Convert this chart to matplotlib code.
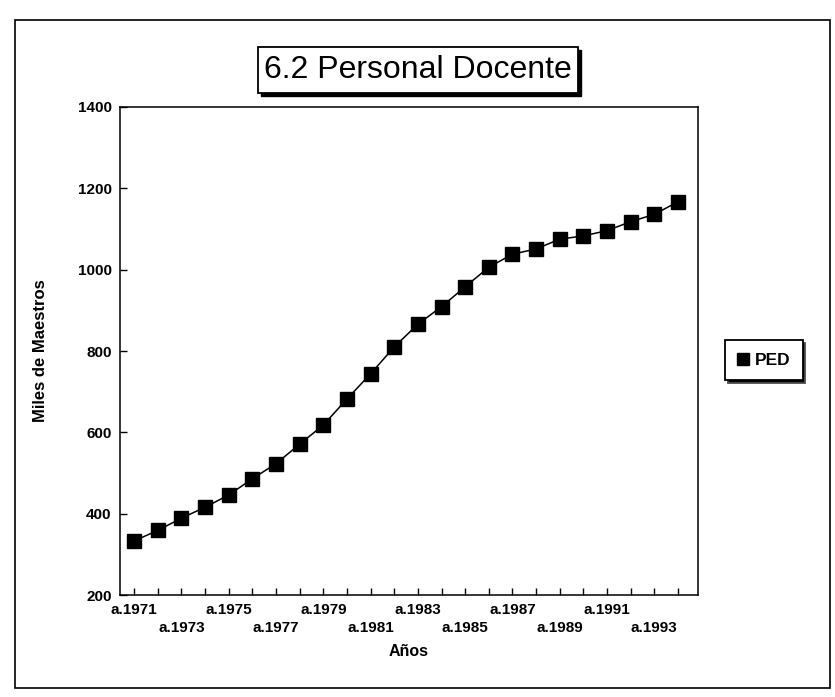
import numpy as np
import matplotlib.pyplot as plt
from matplotlib.patches import Rectangle

plt.rcParams['font.family'] = ['Liberation Sans', 'DejaVu Sans']

# ------------------------------------------------------------
# Datos: personal docente (miles de maestros), 1971-1994

years = list(range(1971, 1995))
ped = [333, 359, 389, 416, 446, 486, 523, 571, 618, 682, 744, 810,
       866, 909, 958, 1006, 1038, 1051, 1075, 1083, 1096, 1118, 1136, 1167]

y_ticks = [200, 400, 600, 800, 1000, 1200, 1400]

# etiquetas solo en años impares, alternando dos renglones
x_labels = []
for i, yr in enumerate(years):
    if i % 2 == 1 or yr > 1993:
        x_labels.append("")
    elif (i // 2) % 2 == 0:
        x_labels.append(f"a.{yr}")
    else:
        x_labels.append(f"\na.{yr}")

# ------------------------------------------------------------
# Figura

fig = plt.figure(figsize=(8.35, 6.97), dpi=100)
ax = fig.add_axes([0.1437, 0.1463, 0.6923, 0.7002])

x = np.arange(len(years))
ax.plot(x, ped, color="black", lw=1.1, marker="s", ms=9.5,
        markerfacecolor="black", markeredgecolor="black", label="PED")

ax.set_xlim(-0.6, 23.85)
ax.set_ylim(200, 1400)
ax.set_yticks(y_ticks)
ax.set_yticklabels([str(v) for v in y_ticks], fontsize=11, fontweight="bold")
ax.set_xticks(x)
ax.set_xticklabels(x_labels, fontsize=11, fontweight="bold", linespacing=1.35)

ax.tick_params(axis="both", direction="in", length=5, width=1, color="black")
ax.tick_params(axis="x", pad=6)
ax.tick_params(axis="y", pad=6)
for s in ax.spines.values():
    s.set_linewidth(1.1)
    s.set_color("black")

ax.set_ylabel("Miles de Maestros", fontsize=12, fontweight="bold")
ax.yaxis.set_label_coords(-0.125, 0.5)
ax.set_xlabel("Años", fontsize=11.5, fontweight="bold")
ax.xaxis.set_label_coords(0.5, -0.10)

# leyenda con sombra
leg = fig.legend(loc="center", bbox_to_anchor=(764 / 835, 1 - 360 / 697),
                 prop={"weight": "bold", "size": 12.5},
                 frameon=True, fancybox=False, edgecolor="black",
                 markerscale=0.9, handlelength=0.6, handletextpad=0.4,
                 borderpad=0.7, shadow={"facecolor": "black", "alpha": 1})
leg.get_frame().set_linewidth(1.3)
leg.get_lines()[0].set_linestyle("none")

# titulo en recuadro con sombra
W, H = 835, 697
tx0, ty0, tx1, ty1 = 258, 47, 578, 93
fig.patches.append(Rectangle((tx0 / W + 3 / W, 1 - ty1 / H - 3 / H),
                             (tx1 - tx0) / W, (ty1 - ty0) / H,
                             transform=fig.transFigure, facecolor="black",
                             edgecolor="black", zorder=1))
fig.patches.append(Rectangle((tx0 / W, 1 - ty1 / H),
                             (tx1 - tx0) / W, (ty1 - ty0) / H,
                             transform=fig.transFigure, facecolor="white",
                             edgecolor="black", lw=1.3, zorder=2))
fig.text((tx0 + tx1) / 2 / W, 1 - (ty0 + ty1) / 2 / H, "6.2 Personal Docente",
         fontsize=23, ha="center", va="center", zorder=3)

# marco exterior del grafico
fig.patches.append(Rectangle((15 / W, 1 - 688 / H), 815 / W, 668 / H,
                             transform=fig.transFigure, facecolor="none",
                             edgecolor="black", lw=1.2, zorder=0))

plt.savefig("out.png", dpi=100)
